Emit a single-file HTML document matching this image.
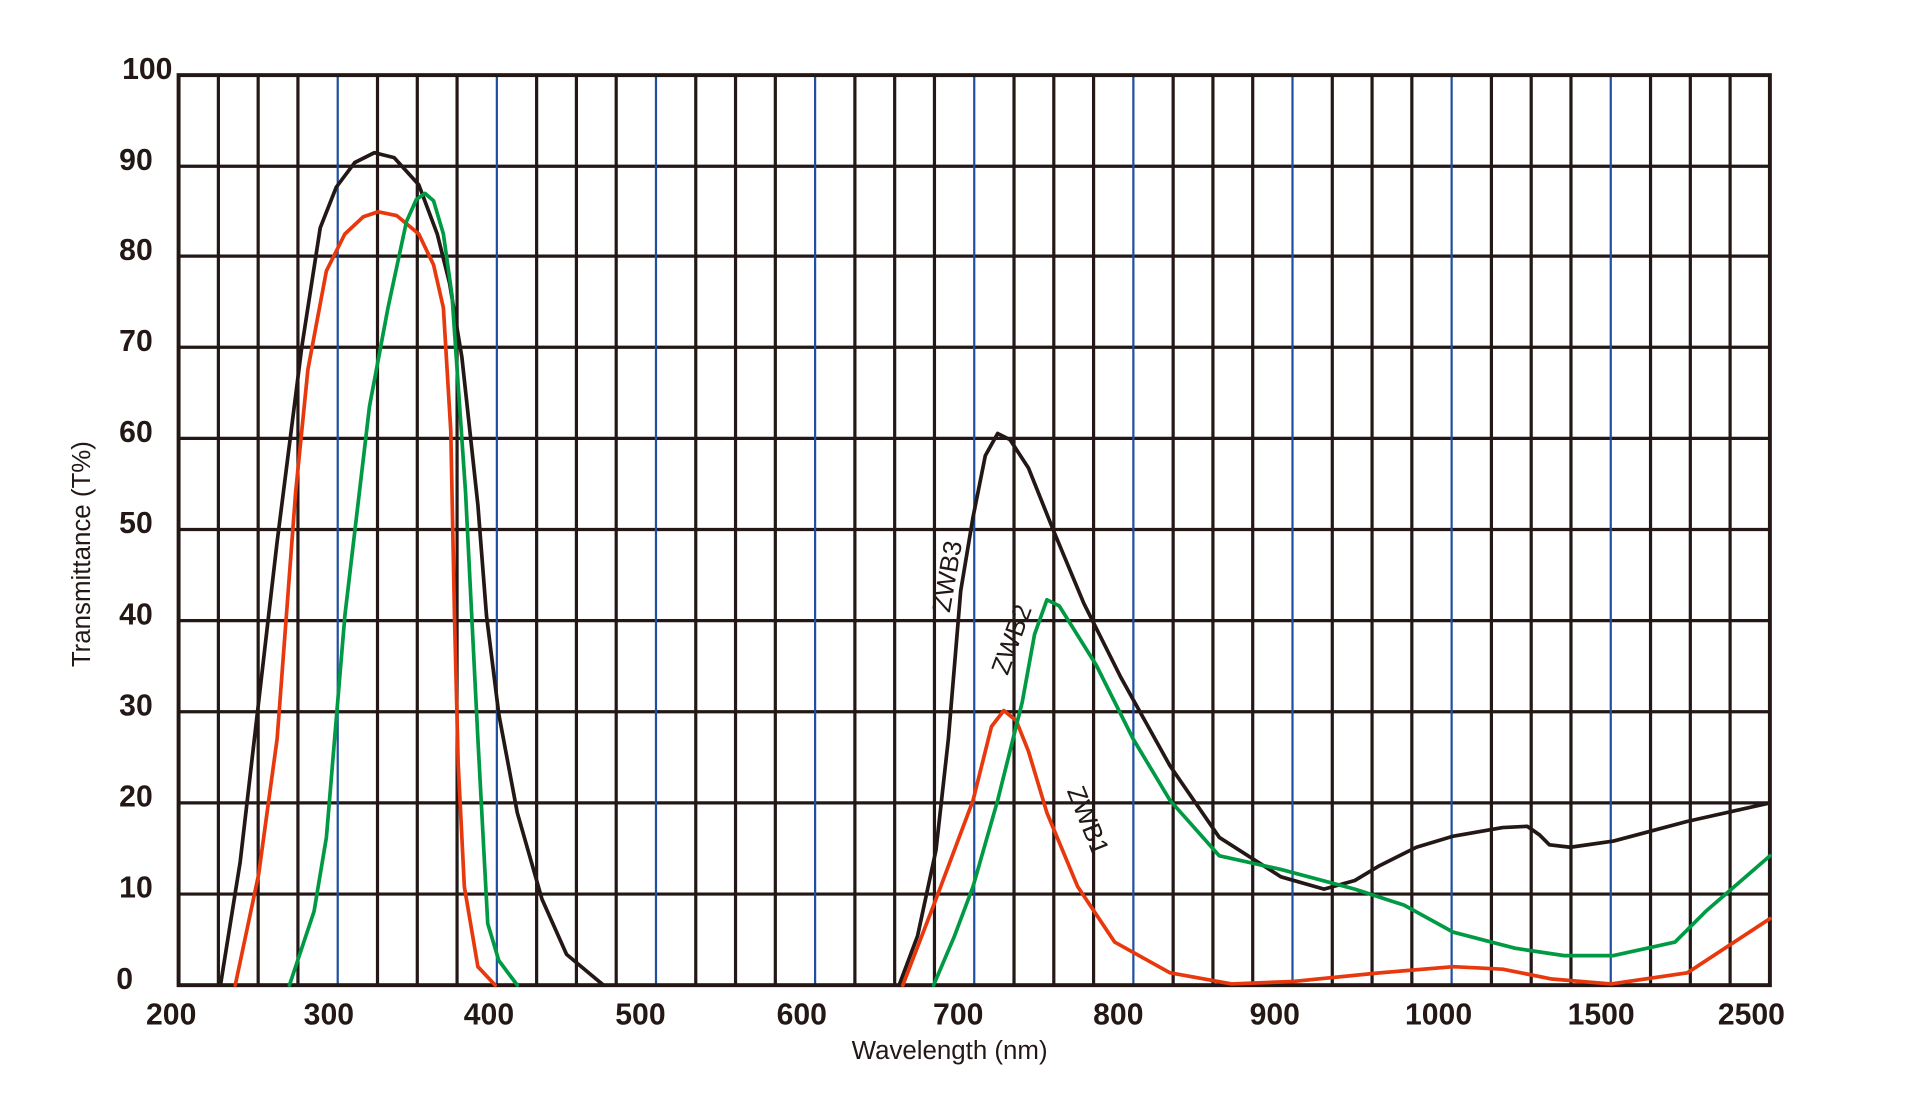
<!DOCTYPE html>
<html><head><meta charset="utf-8"><style>
html,body{margin:0;padding:0;background:#fff;width:1930px;height:1096px;overflow:hidden}
svg{display:block}
</style></head><body>
<svg width="1930" height="1096" viewBox="0 0 1567 890" preserveAspectRatio="none" xmlns="http://www.w3.org/2000/svg">
<g stroke="#231815" stroke-width="2.6">
<line x1="145" x2="1437" y1="135" y2="135"/><line x1="145" x2="1437" y1="208" y2="208"/>
<line x1="145" x2="1437" y1="282" y2="282"/><line x1="145" x2="1437" y1="356" y2="356"/>
<line x1="145" x2="1437" y1="430" y2="430"/><line x1="145" x2="1437" y1="504" y2="504"/>
<line x1="145" x2="1437" y1="578" y2="578"/><line x1="145" x2="1437" y1="652" y2="652"/>
<line x1="145" x2="1437" y1="726" y2="726"/>
</g>
<g id="v"></g>
<rect x="145" y="61" width="1292" height="739" fill="none" stroke="#231815" stroke-width="3.2"/>
<g fill="none" stroke-width="3" stroke-linejoin="round" stroke-linecap="round">
<path stroke="#231815" d="M179,800 L195,700 L210,570 L225,440 L245,282 L260,185 L273,152 L288,132 L304,124 L320,128 L340,150 L355,190 L365,230 L375,290 L388,410 L395,500 L405,580 L420,660 L440,730 L460,775 L490,800"/>
<path stroke="#e8380d" d="M191,800 L210,710 L225,600 L240,400 L250,300 L265,220 L280,190 L295,176 L307,172 L322,175 L340,190 L352,215 L360,250 L366,350 L369,500 L372,620 L377,720 L388,785 L402,800"/>
<path stroke="#009a44" d="M235,800 L255,740 L265,680 L280,500 L300,330 L315,250 L330,180 L338,162 L345,157 L352,163 L360,190 L367,240 L378,400 L388,600 L396,750 L405,780 L420,800"/>
<path stroke="#231815" d="M730,800 L745,760 L760,690 L770,600 L780,480 L790,420 L800,370 L810,352 L820,357 L835,380 L855,430 L880,490 L910,550 L950,622 L990,680 L1040,712 L1075,722 L1100,715 L1120,703 L1150,688 L1180,679 L1220,672 L1240,671 L1250,678 L1258,686 L1275,688 L1310,683 L1370,667 L1437,652"/>
<path stroke="#e8380d" d="M733,800 L760,730 L790,650 L805,590 L815,577 L825,585 L835,610 L850,660 L875,720 L905,765 L950,790 L1000,799 L1050,797 L1120,790 L1180,785 L1220,787 L1260,795 L1308,799 L1370,790 L1437,746"/>
<path stroke="#009a44" d="M758,800 L775,760 L790,720 L810,650 L830,570 L840,515 L850,487 L860,492 L890,540 L920,600 L950,650 L990,695 L1040,706 L1100,722 L1140,735 L1180,757 L1230,770 L1270,776 L1310,776 L1360,765 L1385,740 L1437,695"/>
</g>
<g font-family="Liberation Sans, sans-serif" font-weight="bold" font-size="24.5" fill="#231815" text-anchor="end">
<text x="140" y="64">100</text><text x="124" y="138">90</text><text x="124" y="211">80</text>
<text x="124" y="285">70</text><text x="124" y="359">60</text><text x="124" y="433">50</text>
<text x="124" y="507">40</text><text x="124" y="581">30</text><text x="124" y="655">20</text>
<text x="124" y="729">10</text><text x="108" y="803">0</text>
</g>
<g font-family="Liberation Sans, sans-serif" font-weight="bold" font-size="24.5" fill="#231815" text-anchor="middle">
<text x="139" y="832">200</text><text x="267" y="832">300</text><text x="397" y="832">400</text>
<text x="520" y="832">500</text><text x="651" y="832">600</text><text x="778" y="832">700</text>
<text x="908" y="832">800</text><text x="1035" y="832">900</text><text x="1168" y="832">1000</text>
<text x="1300" y="832">1500</text><text x="1422" y="832">2500</text>
</g>
<g font-family="Liberation Sans, sans-serif" font-size="21" fill="#231815">
<text x="771" y="860" text-anchor="middle">Wavelength (nm)</text>
<text transform="translate(73,450) rotate(-90)" text-anchor="middle">Transmittance (T%)</text>
<text transform="translate(771,498) rotate(-80)">ZWB3</text>
<text transform="translate(818,549) rotate(-70)">ZWB2</text>
<text transform="translate(866,642) rotate(68)">ZWB1</text>
</g>
<script>
var g=document.getElementById('v'),ns='http://www.w3.org/2000/svg';
for(var i=1;i<40;i++){var x=145+i*32.3,l=document.createElementNS(ns,'line');
l.setAttribute('x1',x);l.setAttribute('x2',x);l.setAttribute('y1',61);l.setAttribute('y2',800);
if(i%4==0){l.setAttribute('stroke','#1f4fa0');l.setAttribute('stroke-width','1.8');}else{l.setAttribute('stroke','#231815');l.setAttribute('stroke-width','2.6');}
g.appendChild(l);}
</script>
</svg>
</body></html>
